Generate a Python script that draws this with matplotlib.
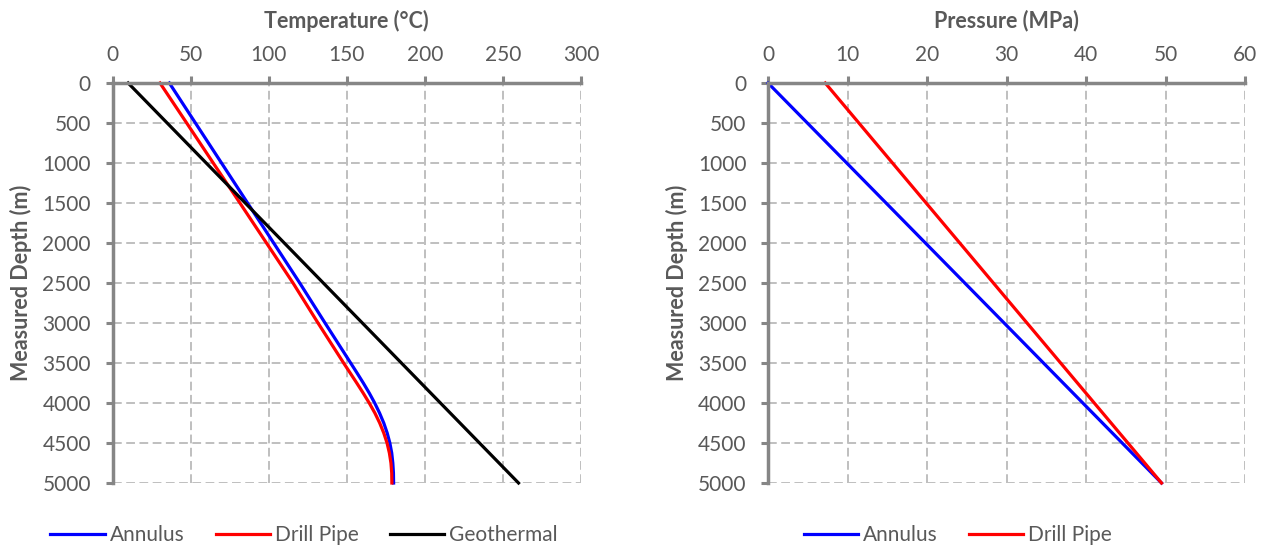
import matplotlib
matplotlib.use('Agg')
import matplotlib.pyplot as plt

plt.rcParams['font.family'] = ['Lato', 'DejaVu Sans']

# Temperature profiles (depth in m, temperature in degC)
depth_t = [0, 500, 1000, 1500, 2000, 2500, 3000, 3250, 3500, 3625, 3750, 3875,
           4000, 4125, 4250, 4375, 4500, 4625, 4750, 4875, 5000]
t_annulus = [36.4, 53.1, 69.8, 86.5, 103.2, 119.9, 136.1, 144.3, 152.5, 156.6, 160.6, 164.4,
             167.9, 171.0, 173.7, 175.9, 177.6, 178.8, 179.5, 179.9, 180.0]
t_drillpipe = [30.4, 47.5, 64.5, 81.6, 98.6, 115.6, 131.6, 139.8, 148.0, 152.2, 156.4, 160.5,
               164.4, 168.0, 171.1, 173.7, 175.8, 177.3, 178.3, 178.8, 178.9]
depth_geo = [0, 5000]
t_geo = [10, 260]

# Pressure profiles (MPa)
depth_p = [0, 5000]
p_annulus = [0, 49.5]
p_drillpipe = [7.2, 49.5]

txt = '#595959'
spine = '#868686'
grid = '#BFBFBF'

fig = plt.figure(figsize=(12.65, 5.5), dpi=100)
ax1 = fig.add_axes([112.5 / 1265, 67 / 550, 468.5 / 1265, 400 / 550])
ax2 = fig.add_axes([768 / 1265, 67 / 550, 477 / 1265, 400 / 550])


def style(ax, xmax, xstep, xlabel, ylab_x):
    ax.set_xlim(0, xmax)
    ax.set_ylim(5000, 0)
    ax.set_xticks(range(0, xmax + 1, xstep))
    ax.set_yticks(range(0, 5001, 500))
    ax.xaxis.tick_top()
    ax.xaxis.set_label_position('top')
    for s in ['right', 'bottom']:
        ax.spines[s].set_visible(False)
    for s in ['top', 'left']:
        ax.spines[s].set_color(spine)
        ax.spines[s].set_linewidth(2.5)
    ax.tick_params(axis='both', direction='out', length=5, width=2.2,
                   color=spine, labelcolor=txt, labelsize=15)
    ax.tick_params(axis='x', pad=8)
    ax.tick_params(axis='y', pad=10.5)
    ax.grid(True, color=grid, linestyle=(0, (4.5, 2.3)), linewidth=1.4)
    ax.set_axisbelow(True)
    ax.set_xlabel(xlabel, fontsize=15.5, fontweight='bold', color=txt, va='center')
    ax.set_ylabel('Measured Depth (m)', fontsize=15.5, fontweight='bold', color=txt, va='center')
    ax.xaxis.set_label_coords(0.5, (483 - 21) / 400)
    ax.yaxis.set_label_coords(ylab_x, 0.5)


ax1.plot(t_annulus, depth_t, color='#0000FF', lw=2.3, label='Annulus', clip_on=False)
ax1.plot(t_drillpipe, depth_t, color='#FF0000', lw=2.3, label='Drill Pipe', clip_on=False)
ax1.plot(t_geo, depth_geo, color='#000000', lw=2.3, label='Geothermal', clip_on=False)
style(ax1, 300, 50, 'Temperature (°C)', (21 - 112.5) / 468.5)

ax2.plot(p_annulus, depth_p, color='#0000FF', lw=2.3, label='Annulus', clip_on=False)
ax2.plot(p_drillpipe, depth_p, color='#FF0000', lw=2.3, label='Drill Pipe', clip_on=False)
style(ax2, 60, 10, 'Pressure (MPa)', (677 - 768) / 477)

leg_kw = dict(loc='center', ncol=3, frameon=False, fontsize=15, handlelength=2.6,
              handletextpad=0.24, columnspacing=1.5, labelcolor=txt)
ax1.legend(bbox_to_anchor=(304 / 1265, 15 / 550), bbox_transform=fig.transFigure, **leg_kw)
ax2.legend(bbox_to_anchor=(958 / 1265, 15 / 550), bbox_transform=fig.transFigure, **leg_kw)

fig.savefig('out.png', dpi=100)
